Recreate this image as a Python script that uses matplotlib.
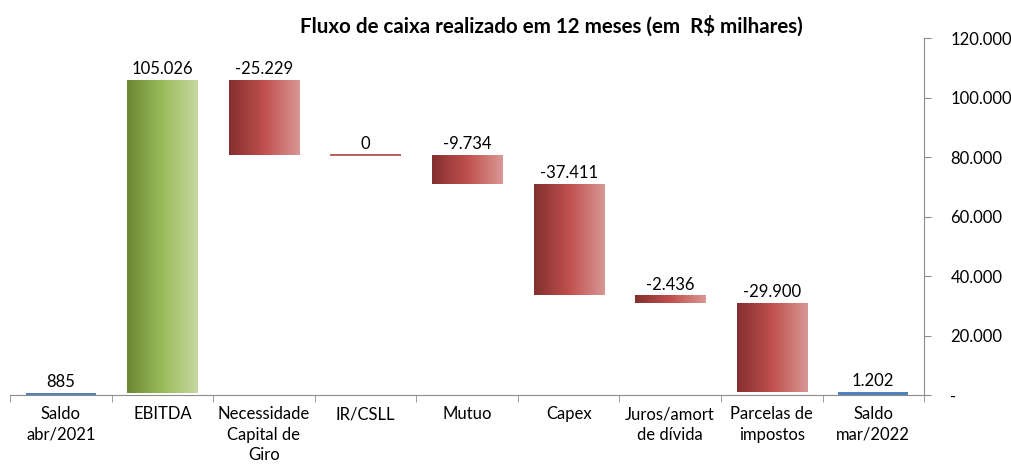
import numpy as np
import matplotlib.pyplot as plt
from matplotlib.colors import LinearSegmentedColormap
from matplotlib.ticker import FuncFormatter, FixedLocator

plt.rcParams['font.family'] = ['Lato', 'DejaVu Sans']

categorias = ['Saldo\nabr/2021', 'EBITDA', 'Necessidade\nCapital de\nGiro', 'IR/CSLL',
              'Mutuo', 'Capex', 'Juros/amort\nde dívida', 'Parcelas de\nimpostos',
              'Saldo\nmar/2022']
valores = [885, 105026, -25229, 0, -9734, -37411, -2436, -29900, 1202]
tipos = ['saldo', 'pos', 'neg', 'neg', 'neg', 'neg', 'neg', 'neg', 'saldo']
rotulos = ['885', '105.026', '-25.229', '0', '-9.734', '-37.411', '-2.436', '-29.900', '1.202']

verde = LinearSegmentedColormap.from_list('verde', ['#6b8733', '#9bbb59', '#c6d9a0'])
vermelho = LinearSegmentedColormap.from_list('vermelho', ['#832f2f', '#c0504d', '#d99795'])

# base e altura de cada barra da cascata
bases = []
alturas = []
acum = 0
for v, t in zip(valores, tipos):
    if t == 'saldo':
        bases.append(0)
        alturas.append(v)
        acum = v
    elif v >= 0:
        bases.append(acum)
        alturas.append(v)
        acum += v
    else:
        bases.append(acum + v)
        alturas.append(-v)
        acum += v

fig = plt.figure(figsize=(10.11, 4.66), dpi=100)
ax = fig.add_axes([0.01, 0.152, 0.904, 0.766])

x = np.arange(len(categorias))
barras = ax.bar(x, alturas, bottom=bases, width=0.69, color='none', edgecolor='none')

grad = np.linspace(0, 1, 256).reshape(1, -1)
for b, t, h in zip(barras, tipos, alturas):
    x0, y0, w = b.get_x(), b.get_y(), b.get_width()
    if t == 'saldo':
        b.set_facecolor('#4f81bd')
        continue
    cmap = verde if t == 'pos' else vermelho
    if h == 0:
        ax.hlines(y0, x0, x0 + w, color='#a94442', lw=1.2)
        continue
    im = ax.imshow(grad, cmap=cmap, aspect='auto', extent=(x0, x0 + w, y0, y0 + h),
                   zorder=2)
    im.set_clip_path(b)

for b, r in zip(barras, rotulos):
    topo = b.get_y() + b.get_height()
    ax.annotate(r, (b.get_x() + b.get_width() / 2, topo), xytext=(0, 2),
                textcoords='offset points', ha='center', va='bottom', fontsize=12)

ax.set_xlim(-0.5, len(categorias) - 0.5)
ax.set_ylim(0, 120000)

ax.yaxis.tick_right()
ax.yaxis.set_major_locator(FixedLocator(np.arange(0, 120001, 20000)))
ax.yaxis.set_major_formatter(FuncFormatter(
    lambda v, p: '-' if v == 0 else f'{v:,.0f}'.replace(',', '.')))

ax.set_xticks(x)
ax.set_xticklabels(categorias, fontsize=12, linespacing=1.35)
ax.tick_params(axis='x', length=0, pad=8)
ax.set_xticks(np.arange(-0.5, len(categorias)), minor=True)
ax.tick_params(axis='x', which='minor', length=5, color='#8c8c8c', direction='out')
ax.tick_params(axis='y', labelsize=12, length=5, color='#8c8c8c', pad=14)

for s in ['left', 'top']:
    ax.spines[s].set_visible(False)
for s in ['bottom', 'right']:
    ax.spines[s].set_color('#8c8c8c')

ax.set_title('Fluxo de caixa realizado em 12 meses (em  R$ milhares)',
             fontsize=14.8, fontweight='bold', pad=4, x=0.592)

fig.savefig('out.png', dpi=100)
